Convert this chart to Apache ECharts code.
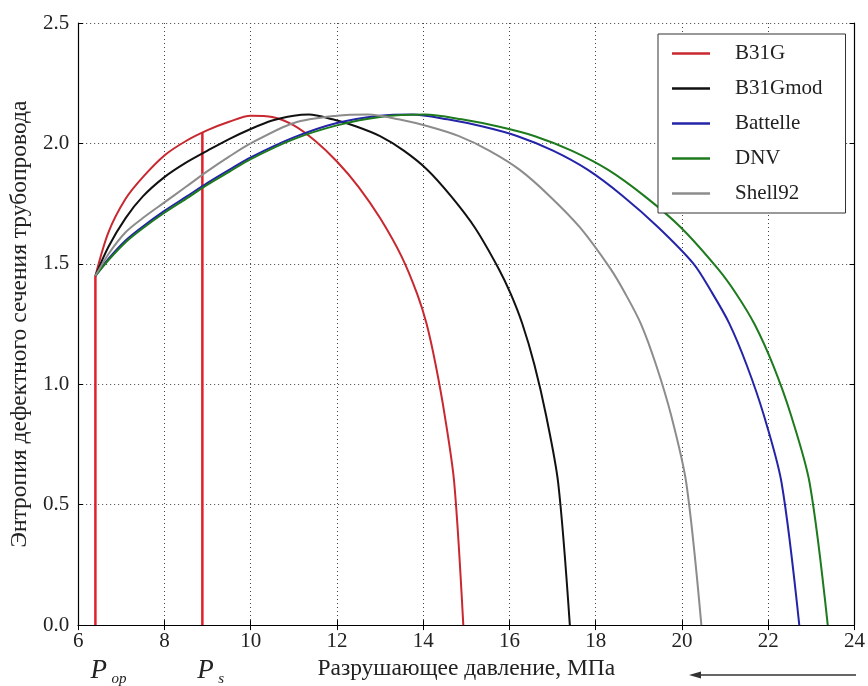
<!DOCTYPE html>
<html>
<head>
<meta charset="utf-8">
<script src="https://cdn.jsdelivr.net/npm/echarts@6/dist/echarts.min.js"></script>
<style>
  html, body { margin: 0; padding: 0; background: #fff; }
  #chart { width: 868px; height: 686px; }
</style>
</head>
<body>
<div id="chart"></div>
<script>
/* series names */
const seriesNames = ["B31G", "B31Gmod", "Battelle", "DNV", "Shell92"];

/* B31G */
const b31gX = [6.4, 6.7, 7.1, 7.5, 8.0, 8.5, 9.0, 9.5, 10.0, 10.5, 11.0, 11.5, 12.0, 12.5, 13.0, 13.5, 13.86, 14.08, 14.29, 14.5, 14.72, 14.93];
const b31gY = [1.45, 1.63, 1.77, 1.86, 1.95, 2.01, 2.055, 2.09, 2.115, 2.11, 2.075, 2.01, 1.925, 1.82, 1.69, 1.53, 1.375, 1.25, 1.08, 0.87, 0.59, 0];

/* B31Gmod */
const b31gmodX = [6.4, 6.7, 7.1, 7.5, 8.0, 8.5, 9.0, 9.5, 10.0, 10.5, 11.0, 11.35, 11.9, 12.45, 13.0, 13.55, 14.1, 14.65, 15.2, 15.75, 16.03, 16.3, 16.58, 16.85, 17.13, 17.4];
const b31gmodY = [1.45, 1.57, 1.69, 1.78, 1.86, 1.92, 1.97, 2.018, 2.06, 2.095, 2.115, 2.12, 2.10, 2.07, 2.03, 1.97, 1.89, 1.78, 1.65, 1.48, 1.375, 1.25, 1.08, 0.87, 0.59, 0];

/* Battelle */
const battelleX = [6.4, 6.7, 7.1, 7.5, 8.0, 8.5, 9.0, 9.5, 10.0, 11.0, 12.0, 13.0, 13.74, 14.56, 15.38, 16.19, 17.01, 17.82, 18.64, 19.46, 20.27, 20.68, 21.09, 21.5, 21.9, 22.31, 22.72];
const battelleY = [1.45, 1.52, 1.597, 1.655, 1.72, 1.778, 1.836, 1.89, 1.942, 2.025, 2.085, 2.115, 2.12, 2.10, 2.07, 2.03, 1.97, 1.89, 1.78, 1.65, 1.50, 1.385, 1.255, 1.08, 0.87, 0.59, 0];

/* DNV */
const dnvX = [6.4, 6.7, 7.1, 7.5, 8.0, 8.5, 9.0, 9.5, 10.0, 11.0, 12.0, 13.0, 14.04, 14.89, 15.74, 16.59, 17.44, 18.29, 19.14, 19.98, 20.83, 21.26, 21.68, 22.11, 22.53, 22.96, 23.38];
const dnvY = [1.45, 1.515, 1.59, 1.648, 1.712, 1.77, 1.829, 1.882, 1.935, 2.018, 2.075, 2.11, 2.12, 2.10, 2.07, 2.03, 1.97, 1.89, 1.78, 1.65, 1.48, 1.375, 1.25, 1.08, 0.87, 0.59, 0];

/* Shell92 */
const shell92X = [6.4, 6.7, 7.1, 7.5, 8.0, 8.5, 9.0, 9.5, 10.0, 11.0, 12.0, 12.72, 13.43, 14.13, 14.83, 15.53, 16.24, 16.94, 17.64, 18.34, 18.69, 19.05, 19.4, 19.75, 20.1, 20.45];
const shell92Y = [1.45, 1.54, 1.631, 1.69, 1.755, 1.82, 1.885, 1.945, 2.0, 2.085, 2.115, 2.12, 2.10, 2.07, 2.03, 1.97, 1.89, 1.78, 1.65, 1.48, 1.375, 1.25, 1.08, 0.87, 0.59, 0];

/* operating / safe pressure marks */
const pOp = 6.4, pOpTop = 1.45;
const pS = 8.88, pSTop = 2.045;

/* axes */
const xMin = 6, xMax = 24, xStep = 2;
const yMin = 0, yMax = 2.5, yStep = 0.5;

const colors = ["#c8282f", "#111111", "#2424a8", "#1d7a1d", "#8c8c8c"];
const serif = "Liberation Serif";

function zip(xs, ys) {
  return xs.map(function (x, i) { return [x, ys[i]]; });
}

let curveData = [
  zip(b31gX, b31gY),
  zip(b31gmodX, b31gmodY),
  zip(battelleX, battelleY),
  zip(dnvX, dnvY),
  zip(shell92X, shell92Y),
];

let series = [
  {
    name: "Pop",
    type: "line",
    data: [[pOp, 0], [pOp, pOpTop]],
    symbol: "none",
    lineStyle: { color: "#e0202a", width: 2.5 },
    silent: true,
  },
  {
    name: "Ps",
    type: "line",
    data: [[pS, 0], [pS, pSTop]],
    symbol: "none",
    lineStyle: { color: "#e0202a", width: 2.5 },
    silent: true,
  },
];
seriesNames.forEach(function (n, i) {
  series.push({
    name: n,
    type: "line",
    data: curveData[i],
    symbol: "none",
    smooth: 0.3,
    itemStyle: { color: colors[i] },
    lineStyle: { color: colors[i], width: 2 },
  });
});

let chart = echarts.init(document.getElementById("chart"));
let option = {
  animation: false,
  backgroundColor: "#fff",
  grid: { left: 78, right: 13, top: 23, bottom: 58 },
  legend: {
    data: seriesNames,
    orient: "vertical",
    left: 658,
    top: 34,
    padding: [9, 23, 9, 14],
    icon: "rect",
    itemWidth: 38,
    itemHeight: 2.5,
    itemGap: 14,
    borderColor: "#333",
    borderWidth: 1,
    backgroundColor: "#fff",
    textStyle: { fontFamily: serif, fontSize: 21, lineHeight: 20, color: "#222", padding: [0, 0, 0, 20] },
  },
  xAxis: [
    {
      type: "value",
      min: xMin,
      max: xMax,
      interval: xStep,
      position: "bottom",
      name: "Разрушающее давление, МПа",
      nameLocation: "middle",
      nameGap: 25,
      nameTextStyle: { fontFamily: serif, fontSize: 23.5, color: "#222" },
      axisLine: { lineStyle: { color: "#000", width: 1.2 } },
      axisTick: { inside: true, length: 5, lineStyle: { color: "#000" } },
      axisLabel: { fontFamily: serif, fontSize: 21, color: "#222", margin: 6 },
      splitLine: { show: true, lineStyle: { color: "#444", width: 1, type: [1, 3] } },
    },
    {
      type: "value",
      min: xMin,
      max: xMax,
      interval: xStep,
      position: "top",
      axisLine: { show: true, lineStyle: { color: "#000", width: 1.2 } },
      axisTick: { inside: true, length: 5, lineStyle: { color: "#000" } },
      axisLabel: { show: false },
      splitLine: { show: false },
    },
  ],
  yAxis: [
    {
      type: "value",
      min: yMin,
      max: yMax,
      interval: yStep,
      position: "left",
      name: "Энтропия дефектного сечения трубопровода",
      nameLocation: "middle",
      nameGap: 46,
      nameTextStyle: { fontFamily: serif, fontSize: 23.5, color: "#222" },
      axisLine: { show: true, lineStyle: { color: "#000", width: 1.2 } },
      axisTick: { show: true, inside: true, length: 5, lineStyle: { color: "#000" } },
      axisLabel: {
        fontFamily: serif,
        fontSize: 21,
        color: "#222",
        margin: 9,
        formatter: function (v) { return v.toFixed(1); },
      },
      splitLine: { show: true, lineStyle: { color: "#444", width: 1, type: [1, 3] } },
    },
    {
      type: "value",
      min: yMin,
      max: yMax,
      interval: yStep,
      position: "right",
      axisLine: { show: true, lineStyle: { color: "#000", width: 1.2 } },
      axisTick: { show: true, inside: true, length: 5, lineStyle: { color: "#000" } },
      axisLabel: { show: false },
      splitLine: { show: false },
    },
  ],
  series: series,
};
chart.setOption(option);

/* P_op / P_s labels under the axis, arrow at bottom right */
let popPx = chart.convertToPixel({ xAxisIndex: 0 }, pOp);
let psPx = chart.convertToPixel({ xAxisIndex: 0 }, pS);
function pLabel(x, sub) {
  return {
    type: "group",
    children: [
      {
        type: "text",
        x: x - 5,
        y: 657,
        style: { text: "P", fontFamily: serif, fontStyle: "italic", fontSize: 27, fill: "#222" },
      },
      {
        type: "text",
        x: x + 16,
        y: 672,
        style: { text: sub, fontFamily: serif, fontStyle: "italic", fontSize: 15, fill: "#222" },
      },
    ],
  };
}
chart.setOption({
  graphic: [
    pLabel(popPx, "op"),
    pLabel(psPx, "s"),
    {
      type: "line",
      shape: { x1: 856, y1: 675, x2: 698, y2: 675 },
      style: { stroke: "#333", lineWidth: 1.3 },
    },
    {
      type: "polygon",
      shape: { points: [[689, 675], [701, 671.5], [701, 678.5]] },
      style: { fill: "#333" },
    },
  ],
});
</script>
</body>
</html>
